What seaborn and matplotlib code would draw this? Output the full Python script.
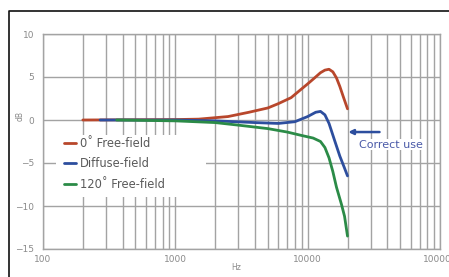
import matplotlib
matplotlib.use("Agg")
import matplotlib.pyplot as plt
import matplotlib.ticker as mticker
from matplotlib.lines import Line2D
from matplotlib.patches import Rectangle
import pandas as pd
import seaborn as sns

sns.set_style("white")
plt.rcParams['font.family'] = ['DejaVu Sans']

# frequency response values
red_hz = [200, 1000, 1500, 2500, 3600, 5000, 6000, 7500, 8500, 10000, 11100, 12500, 13500, 14500, 15500, 16500, 17500, 18500, 20000]
red_db = [0.0, 0.05, 0.1, 0.4, 0.9, 1.4, 1.9, 2.6, 3.3, 4.2, 4.8, 5.5, 5.8, 5.9, 5.6, 4.9, 3.9, 2.8, 1.3]
blue_hz = [270, 1000, 2000, 4000, 6000, 8000, 10000, 11500, 12500, 13500, 14500, 16000, 17500, 19000, 20000]
blue_db = [0.0, 0.0, -0.1, -0.3, -0.4, -0.2, 0.4, 0.9, 1.0, 0.6, -0.4, -2.4, -4.2, -5.6, -6.5]
green_hz = [360, 1000, 2000, 3000, 5000, 7000, 9000, 11000, 12500, 13500, 14500, 15500, 16500, 18000, 19000, 20000]
green_db = [0.0, -0.1, -0.3, -0.6, -1.0, -1.4, -1.8, -2.1, -2.5, -3.2, -4.4, -6.0, -7.8, -9.8, -11.2, -13.5]

labels = ["0\u02da Free-field", "Diffuse-field", "120\u02da Free-field"]
colors = ["#b8472c", "#2d4e9e", "#2b8b47"]
y_ticks = [-15, -10, -5, 0, 5, 10]
x_ticks = [100, 1000, 10000, 100000]
x_tick_labels = ["100", "1000", "10000", "100000"]

df = pd.concat([
    pd.DataFrame({"Hz": red_hz, "dB": red_db, "series": labels[0]}),
    pd.DataFrame({"Hz": blue_hz, "dB": blue_db, "series": labels[1]}),
    pd.DataFrame({"Hz": green_hz, "dB": green_db, "series": labels[2]}),
])

fig = plt.figure(figsize=(4.49, 2.77), dpi=100)
ax = fig.add_axes([43/449, 28/277, 397/449, 215/277])

grid_c = "#a3a3a3"
ax.set_xscale("log")
ax.set_xlim(100, 100000)
ax.set_ylim(-15, 10)

# grid drawn by hand on the tick positions
for dec in [100, 1000, 10000]:
    for m in range(1, 10):
        ax.axvline(dec*m, color=grid_c, lw=1.0, zorder=1)
ax.axvline(100000, color=grid_c, lw=1.0, zorder=1)
for yv in y_ticks:
    ax.axhline(yv, color=grid_c, lw=1.0, zorder=1)

# white patch behind the legend hides the grid there
ax.add_patch(Rectangle((56/449, 1 - 197/277), 150/449, 62/277,
                       transform=fig.transFigure, facecolor="white",
                       edgecolor="none", zorder=2, clip_on=False))

sns.lineplot(data=df, x="Hz", y="dB", hue="series", palette=colors, ax=ax,
             lw=2.0, estimator=None, sort=False, zorder=3)

ax.set_xticks(x_ticks)
ax.set_xticklabels(x_tick_labels)
ax.xaxis.set_minor_locator(mticker.NullLocator())
ax.set_yticks(y_ticks)
ax.tick_params(axis="x", length=0, pad=4, labelsize=6.5, labelcolor="#8a8a8a")
ax.tick_params(axis="y", direction="inout", length=7, width=1, color=grid_c,
               pad=3, labelsize=6.5, labelcolor="#8a8a8a")
for s in ax.spines.values():
    s.set_color(grid_c)
    s.set_linewidth(1.0)
ax.set_xlabel("")
ax.set_ylabel("")
fig.text(236/449, 1 - 268/277, "Hz", fontsize=5.5, color="#8a8a8a", ha="center", va="center")
fig.text(20/449, 1 - 116/277, "dB", fontsize=5.5, color="#8a8a8a", ha="center", va="center", rotation=90)

leg = ax.legend(loc="upper left", bbox_to_anchor=(64/449, 1 - 137/277),
                bbox_transform=fig.transFigure, frameon=False,
                handlelength=1.0, handletextpad=0.4, labelspacing=0.65,
                borderpad=0.0, fontsize=8.3, borderaxespad=0)
leg.set_zorder(4)
for t in leg.get_texts():
    t.set_color("#5a5a5a")
for h in leg.get_lines():
    h.set_linewidth(2.0)

# annotation
ax.annotate("", xy=(10**(2 + (347-43)/133.), -1.4), xytext=(10**(2 + (384-43)/133.), -1.4),
            arrowprops=dict(arrowstyle="-|>", color="#2d4e9e", lw=1.8, mutation_scale=7),
            zorder=5)
ax.text(10**(2 + (393-43)/133.), -2.85, "Correct use", color="#4a5aa8", fontsize=8,
        ha="center", va="center", zorder=5,
        bbox=dict(facecolor="white", edgecolor="none", pad=0.5))

# frame around the picture
fig.add_artist(Line2D([9/449, 9/449, 1.0], [0.0, 1 - 11/277, 1 - 11/277],
                      transform=fig.transFigure, color="#111111", lw=1.2))

fig.savefig("out.png", dpi=100)
